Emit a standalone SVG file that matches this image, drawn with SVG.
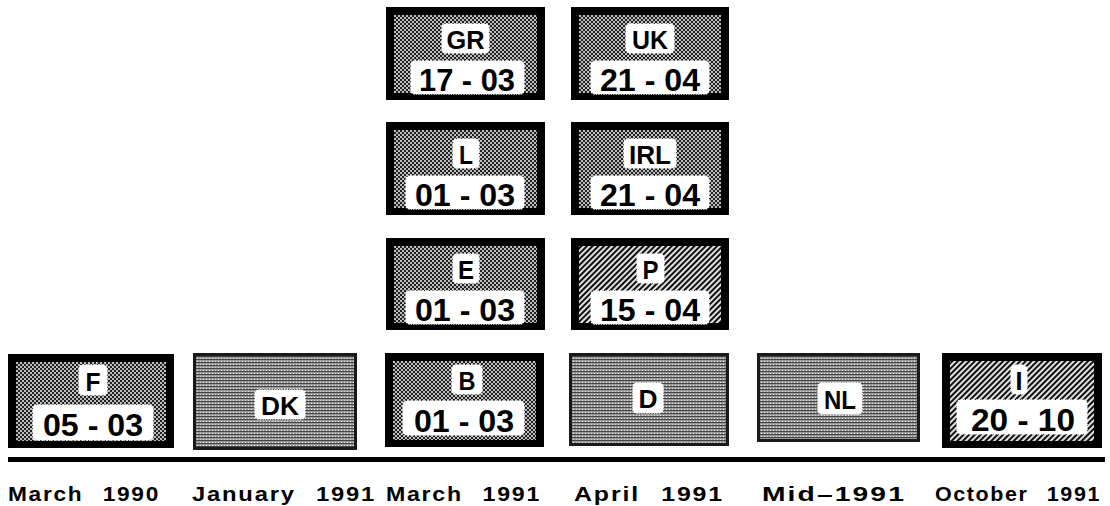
<svg xmlns="http://www.w3.org/2000/svg" width="1110" height="506" viewBox="0 0 1110 506">
<defs>
<pattern id="dots" width="4" height="4" patternUnits="userSpaceOnUse">
<rect width="4" height="4" fill="#222"/>
<circle cx="1" cy="1" r="0.95" fill="#fff"/>
<circle cx="3" cy="3" r="0.95" fill="#fff"/>
</pattern>
<pattern id="hatch" width="4" height="4" patternUnits="userSpaceOnUse" patternTransform="rotate(45)">
<rect width="4" height="4" fill="#e0e0e0"/>
<rect width="2" height="4" fill="#111"/>
</pattern>
<pattern id="lines" width="3" height="3" patternUnits="userSpaceOnUse">
<rect width="3" height="3" fill="#999"/>
<rect width="3" height="1" fill="#444"/>
<rect x="1" y="2" width="1" height="1" fill="#e6e6e6"/>
</pattern>
</defs>
<style>
.frame{fill:#000}
.dot{fill:url(#dots)}
.hat{fill:url(#hatch)}
.grey{fill:url(#lines);stroke:#1a1a1a;stroke-width:3}
.tab{fill:#fff;stroke:#fff;stroke-width:1.5;stroke-dasharray:1.5 1}
.code{font-family:"Liberation Sans",Arial,sans-serif;font-weight:bold;font-size:26px;fill:#000;text-anchor:middle}
.date{font-family:"Liberation Sans",Arial,sans-serif;font-weight:bold;font-size:32px;fill:#000;text-anchor:middle}
.lbl{font-family:"Liberation Sans",Arial,sans-serif;font-weight:bold;font-size:20px;fill:#000;letter-spacing:1.5px;word-spacing:10px}
</style>

<!-- Column B/E/L/GR -->
<g id="node-GR" transform="translate(386,7)">
<rect class="frame" width="159" height="93"/>
<rect class="dot" x="8" y="8" width="143" height="78"/>
<rect class="tab" x="56" y="17" width="47" height="29" rx="4"/>
<text class="code" x="79.5" y="42" textLength="38" lengthAdjust="spacingAndGlyphs">GR</text>
<rect class="tab" x="25" y="54" width="113" height="33" rx="4"/>
<text class="date" x="81" y="84" textLength="96" lengthAdjust="spacingAndGlyphs">17 - 03</text>
</g>
<g id="node-L" transform="translate(386,122)">
<rect class="frame" width="159" height="93"/>
<rect class="dot" x="8" y="8" width="143" height="78"/>
<rect class="tab" x="67" y="17" width="26" height="29" rx="4"/>
<text class="code" x="80" y="42" textLength="14" lengthAdjust="spacingAndGlyphs">L</text>
<rect class="tab" x="20" y="54" width="118" height="33" rx="4"/>
<text class="date" x="79" y="84" textLength="100" lengthAdjust="spacingAndGlyphs">01 - 03</text>
</g>
<g id="node-E" transform="translate(386,238)">
<rect class="frame" width="159" height="92"/>
<rect class="dot" x="8" y="8" width="143" height="77"/>
<rect class="tab" x="67" y="16" width="26" height="29" rx="4"/>
<text class="code" x="80" y="41" textLength="16" lengthAdjust="spacingAndGlyphs">E</text>
<rect class="tab" x="20" y="53" width="118" height="33" rx="4"/>
<text class="date" x="79" y="83" textLength="100" lengthAdjust="spacingAndGlyphs">01 - 03</text>
</g>
<g id="node-B" transform="translate(385,353)">
<rect class="frame" width="159" height="94"/>
<rect class="dot" x="8" y="8" width="143" height="79"/>
<rect class="tab" x="67" y="12" width="30" height="29" rx="4"/>
<text class="code" x="82" y="37" textLength="17" lengthAdjust="spacingAndGlyphs">B</text>
<rect class="tab" x="18" y="48" width="121" height="34" rx="4"/>
<text class="date" x="79" y="79" textLength="100" lengthAdjust="spacingAndGlyphs">01 - 03</text>
</g>

<!-- Column D/P/IRL/UK -->
<g id="node-UK" transform="translate(571,7)">
<rect class="frame" width="158" height="93"/>
<rect class="dot" x="8" y="8" width="142" height="78"/>
<rect class="tab" x="55" y="17" width="48" height="29" rx="4"/>
<text class="code" x="79" y="42" textLength="36" lengthAdjust="spacingAndGlyphs">UK</text>
<rect class="tab" x="20" y="54" width="118" height="33" rx="4"/>
<text class="date" x="79" y="84" textLength="100" lengthAdjust="spacingAndGlyphs">21 - 04</text>
</g>
<g id="node-IRL" transform="translate(571,122)">
<rect class="frame" width="158" height="93"/>
<rect class="dot" x="8" y="8" width="142" height="78"/>
<rect class="tab" x="53" y="17" width="52" height="29" rx="4"/>
<text class="code" x="79" y="42" textLength="42" lengthAdjust="spacingAndGlyphs">IRL</text>
<rect class="tab" x="20" y="54" width="118" height="33" rx="4"/>
<text class="date" x="79" y="84" textLength="100" lengthAdjust="spacingAndGlyphs">21 - 04</text>
</g>
<g id="node-P" transform="translate(571,238)">
<rect class="frame" width="158" height="92"/>
<rect class="hat" x="8" y="8" width="142" height="77"/>
<rect class="tab" x="66" y="16" width="27" height="29" rx="4"/>
<text class="code" x="79.5" y="41" textLength="16" lengthAdjust="spacingAndGlyphs">P</text>
<rect class="tab" x="20" y="53" width="118" height="33" rx="4"/>
<text class="date" x="79" y="83" textLength="100" lengthAdjust="spacingAndGlyphs">15 - 04</text>
</g>
<g id="node-D" transform="translate(569,353)">
<rect class="grey" x="1.5" y="1.5" width="157" height="90"/>
<rect class="tab" x="64" y="30" width="30" height="30" rx="4"/>
<text class="code" x="79" y="55" textLength="19" lengthAdjust="spacingAndGlyphs">D</text>
</g>

<!-- Bottom row others -->
<g id="node-F" transform="translate(8,354)">
<rect class="frame" width="166" height="94"/>
<rect class="dot" x="8" y="8" width="150" height="79"/>
<rect class="tab" x="71" y="11" width="28" height="30" rx="4"/>
<text class="code" x="85" y="37" textLength="15" lengthAdjust="spacingAndGlyphs">F</text>
<rect class="tab" x="25" y="51" width="120" height="35" rx="4"/>
<text class="date" x="85" y="82" textLength="100" lengthAdjust="spacingAndGlyphs">05 - 03</text>
</g>
<g id="node-DK" transform="translate(193,353)">
<rect class="grey" x="1.5" y="1.5" width="161" height="94"/>
<rect class="tab" x="62" y="37" width="50" height="29" rx="4"/>
<text class="code" x="87" y="62" textLength="38" lengthAdjust="spacingAndGlyphs">DK</text>
</g>
<g id="node-NL" transform="translate(757,353)">
<rect class="grey" x="1.5" y="1.5" width="160" height="86"/>
<rect class="tab" x="61" y="30" width="44" height="31" rx="4"/>
<text class="code" x="83" y="56" textLength="32" lengthAdjust="spacingAndGlyphs">NL</text>
</g>
<g id="node-I" transform="translate(942,353)">
<rect class="frame" width="160" height="95"/>
<rect class="hat" x="8" y="8" width="144" height="80"/>
<rect class="tab" x="69" y="12" width="16" height="29" rx="5"/>
<text class="code" x="77" y="37" textLength="7" lengthAdjust="spacingAndGlyphs">I</text>
<rect class="tab" x="15" y="47" width="130" height="34" rx="4"/>
<text class="date" x="81" y="78" textLength="104" lengthAdjust="spacingAndGlyphs">20 - 10</text>
</g>

<!-- Timeline axis -->
<g id="connectors">
<rect x="8" y="457" width="1097" height="5" fill="#000"/>
</g>

<g id="labels">
<text class="lbl" x="8" y="501" textLength="152" lengthAdjust="spacingAndGlyphs">March 1990</text>
<text class="lbl" x="192" y="501" textLength="184" lengthAdjust="spacingAndGlyphs">January 1991</text>
<text class="lbl" x="386" y="501" textLength="155" lengthAdjust="spacingAndGlyphs">March 1991</text>
<text class="lbl" x="574" y="501" textLength="150" lengthAdjust="spacingAndGlyphs">April 1991</text>
<text class="lbl" x="762" y="501" textLength="144" lengthAdjust="spacingAndGlyphs">Mid–1991</text>
<text class="lbl" x="935" y="501" textLength="166" lengthAdjust="spacingAndGlyphs">October 1991</text>
</g>
</svg>
